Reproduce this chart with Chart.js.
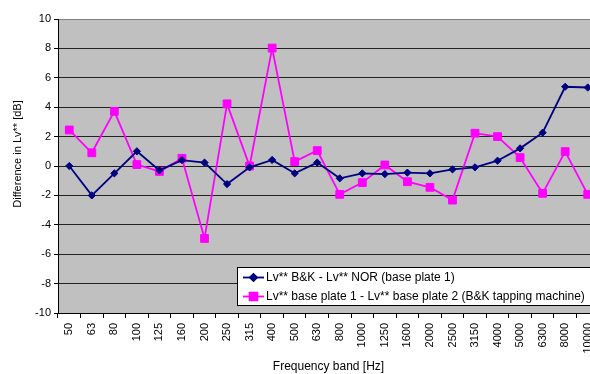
<!DOCTYPE html>
<html>
<head>
<meta charset="utf-8">
<script src="https://cdn.jsdelivr.net/npm/chart.js@4/dist/chart.umd.min.js"></script>
<style>
html,body{margin:0;padding:0;background:#fff;overflow:hidden;width:590px;height:374px;}
#wrap{position:absolute;left:0;top:0;width:610px;height:374px;}
</style>
</head>
<body>
<div id="wrap"><canvas id="c" width="610" height="374"></canvas></div>
<script>
const categories = ["50","63","80","100","125","160","200","250","315","400","500","630","800","1000","1250","1600","2000","2500","3150","4000","5000","6300","8000","10000"];
const seriesNames = ["Lv** B&K - Lv** NOR (base plate 1)", "Lv** base plate 1 - Lv** base plate 2 (B&K tapping machine)"];
const bkMinusNor = [0.0,-2.0,-0.5,1.0,-0.3,0.4,0.23,-1.23,-0.09,0.41,-0.5,0.23,-0.84,-0.5,-0.55,-0.45,-0.5,-0.23,-0.09,0.36,1.2,2.27,5.39,5.34];
const plate1MinusPlate2 = [2.45,0.9,3.72,0.1,-0.37,0.52,-4.93,4.23,0.0,8.02,0.3,1.05,-1.93,-1.13,0.07,-1.07,-1.45,-2.32,2.23,2.0,0.57,-1.86,0.98,-1.93];
const yTitle = "Difference in Lv** [dB]";
const xTitle = "Frequency band [Hz]";
const yMin = -10, yMax = 10, yStep = 2;

const FONT = '"Liberation Sans", Arial, sans-serif';

const overlay = {
  id: 'overlay',
  beforeDraw(chart) {
    const {ctx, chartArea: a} = chart;
    ctx.save();
    ctx.fillStyle = '#C0C0C0';
    ctx.fillRect(a.left, a.top, a.right - a.left, a.bottom - a.top);
    ctx.restore();
  },
  afterDraw(chart) {
    const {ctx, chartArea: a} = chart;
    ctx.save();
    ctx.fillStyle = '#000';
    ctx.font = '12px ' + FONT;
    ctx.textAlign = 'center';
    ctx.textBaseline = 'middle';
    ctx.fillText(xTitle, (a.left + a.right) / 2, 366.5);
    ctx.font = '11px ' + FONT;
    ctx.translate(17.5, 154);
    ctx.rotate(-Math.PI / 2);
    ctx.fillText(yTitle, 0, 0);
    ctx.restore();

    // legend
    ctx.save();
    const lx = 237.5, ly = 267.5, lw = 362, lh = 38;
    ctx.fillStyle = '#fff';
    ctx.fillRect(lx, ly, lw, lh);
    ctx.strokeStyle = '#000';
    ctx.lineWidth = 1;
    ctx.strokeRect(lx, ly, lw, lh);
    const rows = [277.5, 296.5];
    chart.data.datasets.forEach((ds, i) => {
      const y = rows[i];
      ctx.strokeStyle = ds.borderColor;
      ctx.lineWidth = ds.borderWidth;
      ctx.beginPath();
      ctx.moveTo(243, y);
      ctx.lineTo(264, y);
      ctx.stroke();
      Chart.helpers.drawPoint(ctx, {pointStyle: ds.pointStyle, radius: ds.pointRadius, borderWidth: 1}, 253.5, y);
      ctx.fillStyle = ds.backgroundColor;
      ctx.fill();
      ctx.fillStyle = '#000';
      ctx.font = '12px ' + FONT;
      ctx.textAlign = 'left';
      ctx.textBaseline = 'middle';
      ctx.fillText(ds.label, 266, y + 0.5);
    });
    ctx.restore();
  }
};

new Chart(document.getElementById('c'), {
  type: 'line',
  data: {
    labels: categories,
    datasets: [
      {
        label: seriesNames[0],
        data: bkMinusNor,
        borderColor: '#000080',
        backgroundColor: '#000080',
        borderWidth: 1.8,
        pointStyle: 'rectRot',
        pointRadius: 3.6,
        pointBorderWidth: 1,
        tension: 0
      },
      {
        label: seriesNames[1],
        data: plate1MinusPlate2,
        borderColor: '#FF00FF',
        backgroundColor: '#FF00FF',
        borderWidth: 1.8,
        pointStyle: 'rect',
        pointRadius: 5.5,
        pointBorderWidth: 1,
        tension: 0
      }
    ]
  },
  options: {
    responsive: false,
    animation: false,
    devicePixelRatio: 1,
    layout: {padding: {top: 19, right: 11, left: 0, bottom: 0}},
    plugins: {legend: {display: false}, tooltip: {enabled: false}},
    scales: {
      x: {
        type: 'category',
        offset: true,
        afterFit(s) { s.height = 61; },
        grid: {offset: true, drawOnChartArea: false, tickLength: 5, tickColor: '#000', color: '#000'},
        border: {display: true, color: '#000', width: 1},
        ticks: {autoSkip: false, minRotation: 90, maxRotation: 90, color: '#000', padding: 5, font: {family: FONT, size: 11}}
      },
      y: {
        min: yMin, max: yMax,
        afterFit(s) { s.width = 58; },
        grid: {
          color: (c) => (c.tick && c.tick.value === yMax) ? '#808080' : '#222',
          tickColor: '#000',
          tickLength: 4,
          lineWidth: 1
        },
        border: {display: true, color: '#000', width: 1},
        ticks: {stepSize: yStep, color: '#000', padding: 3, font: {family: FONT, size: 11}}
      }
    }
  },
  plugins: [overlay]
});
</script>
</body>
</html>
